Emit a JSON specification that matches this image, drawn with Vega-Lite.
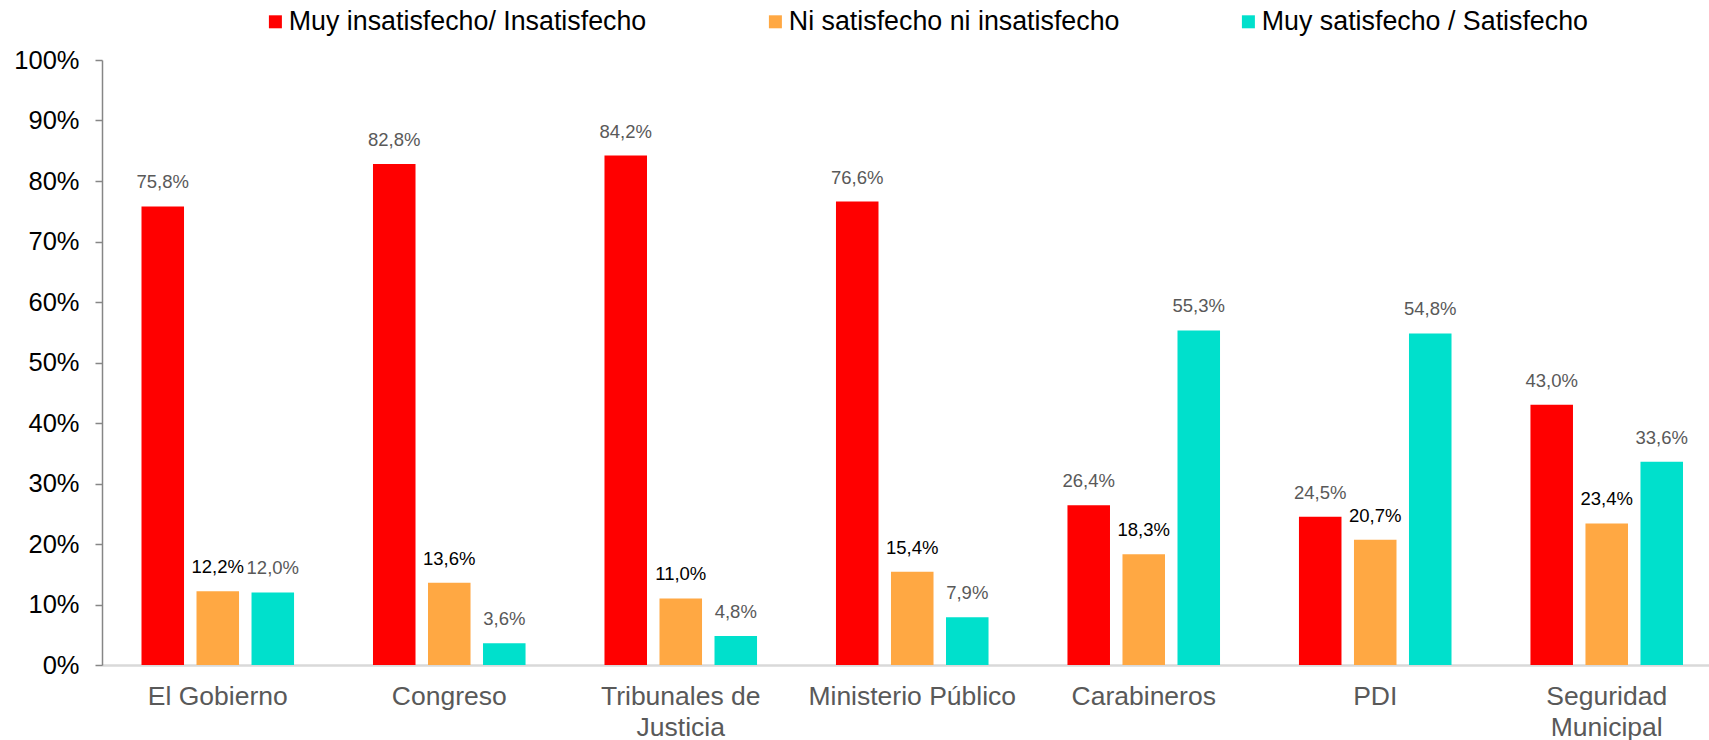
{
  "$schema": "https://vega.github.io/schema/vega-lite/v6.json",
  "autosize": "none",
  "width": 1607,
  "height": 605,
  "padding": {"left": 102, "top": 60, "right": 0, "bottom": 75},
  "background": "white",
  "config": {
    "locale": {"number": {"decimal": ",", "thousands": ".", "grouping": [3], "currency": ["$", ""]}},
    "font": "Liberation Sans",
    "view": {"stroke": null}
  },
  "data": {
    "values": [
      {"institucion": "El Gobierno", "respuesta": "Muy insatisfecho/ Insatisfecho", "valor": 0.758},
      {"institucion": "El Gobierno", "respuesta": "Ni satisfecho ni insatisfecho", "valor": 0.122},
      {"institucion": "El Gobierno", "respuesta": "Muy satisfecho / Satisfecho", "valor": 0.120},
      {"institucion": "Congreso", "respuesta": "Muy insatisfecho/ Insatisfecho", "valor": 0.828},
      {"institucion": "Congreso", "respuesta": "Ni satisfecho ni insatisfecho", "valor": 0.136},
      {"institucion": "Congreso", "respuesta": "Muy satisfecho / Satisfecho", "valor": 0.036},
      {"institucion": "Tribunales de Justicia", "respuesta": "Muy insatisfecho/ Insatisfecho", "valor": 0.842},
      {"institucion": "Tribunales de Justicia", "respuesta": "Ni satisfecho ni insatisfecho", "valor": 0.110},
      {"institucion": "Tribunales de Justicia", "respuesta": "Muy satisfecho / Satisfecho", "valor": 0.048},
      {"institucion": "Ministerio Público", "respuesta": "Muy insatisfecho/ Insatisfecho", "valor": 0.766},
      {"institucion": "Ministerio Público", "respuesta": "Ni satisfecho ni insatisfecho", "valor": 0.154},
      {"institucion": "Ministerio Público", "respuesta": "Muy satisfecho / Satisfecho", "valor": 0.079},
      {"institucion": "Carabineros", "respuesta": "Muy insatisfecho/ Insatisfecho", "valor": 0.264},
      {"institucion": "Carabineros", "respuesta": "Ni satisfecho ni insatisfecho", "valor": 0.183},
      {"institucion": "Carabineros", "respuesta": "Muy satisfecho / Satisfecho", "valor": 0.553},
      {"institucion": "PDI", "respuesta": "Muy insatisfecho/ Insatisfecho", "valor": 0.245},
      {"institucion": "PDI", "respuesta": "Ni satisfecho ni insatisfecho", "valor": 0.207},
      {"institucion": "PDI", "respuesta": "Muy satisfecho / Satisfecho", "valor": 0.548},
      {"institucion": "Seguridad Municipal", "respuesta": "Muy insatisfecho/ Insatisfecho", "valor": 0.430},
      {"institucion": "Seguridad Municipal", "respuesta": "Ni satisfecho ni insatisfecho", "valor": 0.234},
      {"institucion": "Seguridad Municipal", "respuesta": "Muy satisfecho / Satisfecho", "valor": 0.336}
    ]
  },
  "encoding": {
    "x": {
      "field": "institucion",
      "type": "nominal",
      "sort": null,
      "scale": {"range": [0, 1620.5], "paddingInner": 0.341, "paddingOuter": 0.1706},
      "axis": {
        "title": null,
        "labelAngle": 0,
        "ticks": false,
        "domainColor": "#D9D9D9",
        "domainWidth": 2.5,
        "labelFontSize": 26.5,
        "labelColor": "#595959",
        "labelPadding": 18,
        "labelLineHeight": 31,
        "labelLimit": 0,
        "labelExpr": "datum.label == 'Tribunales de Justicia' ? ['Tribunales de', 'Justicia'] : datum.label == 'Seguridad Municipal' ? ['Seguridad', 'Municipal'] : datum.label"
      }
    },
    "xOffset": {
      "field": "respuesta",
      "type": "nominal",
      "sort": ["Muy insatisfecho/ Insatisfecho", "Ni satisfecho ni insatisfecho", "Muy satisfecho / Satisfecho"],
      "scale": {"paddingInner": 0.227, "paddingOuter": 0}
    },
    "y": {
      "field": "valor",
      "type": "quantitative",
      "scale": {"domain": [0, 1]},
      "axis": {
        "title": null,
        "grid": false,
        "values": [0, 0.1, 0.2, 0.3, 0.4, 0.5, 0.6, 0.7, 0.8, 0.9, 1],
        "format": ".0%",
        "domainColor": "#868686",
        "domainWidth": 1.5,
        "tickColor": "#868686",
        "tickWidth": 1.5,
        "tickSize": 7,
        "labelFontSize": 25.5,
        "labelColor": "black",
        "labelPadding": 16
      }
    }
  },
  "layer": [
    {
      "mark": {"type": "bar"},
      "encoding": {
        "color": {
          "field": "respuesta",
          "type": "nominal",
          "sort": ["Muy insatisfecho/ Insatisfecho", "Ni satisfecho ni insatisfecho", "Muy satisfecho / Satisfecho"],
          "scale": {
            "domain": ["Muy insatisfecho/ Insatisfecho", "Ni satisfecho ni insatisfecho", "Muy satisfecho / Satisfecho"],
            "range": ["#FF0000", "#FFA843", "#00E0CC"]
          },
          "legend": {
            "orient": "none",
            "legendX": 160,
            "legendY": -52,
            "direction": "horizontal",
            "title": null,
            "symbolType": "square",
            "symbolSize": 169,
            "symbolStrokeWidth": 0,
            "labelFontSize": 26.8,
            "labelColor": "black",
            "labelOffset": 0,
            "labelLimit": 0,
            "columnPadding": 115
          }
        }
      }
    },
    {
      "mark": {"type": "text", "baseline": "alphabetic", "dy": -18, "fontSize": 18.5},
      "encoding": {
        "text": {"field": "valor", "type": "quantitative", "format": ".1%"},
        "color": {
          "condition": {"test": "datum.respuesta === 'Ni satisfecho ni insatisfecho'", "value": "black"},
          "value": "#595959"
        }
      }
    }
  ]
}
